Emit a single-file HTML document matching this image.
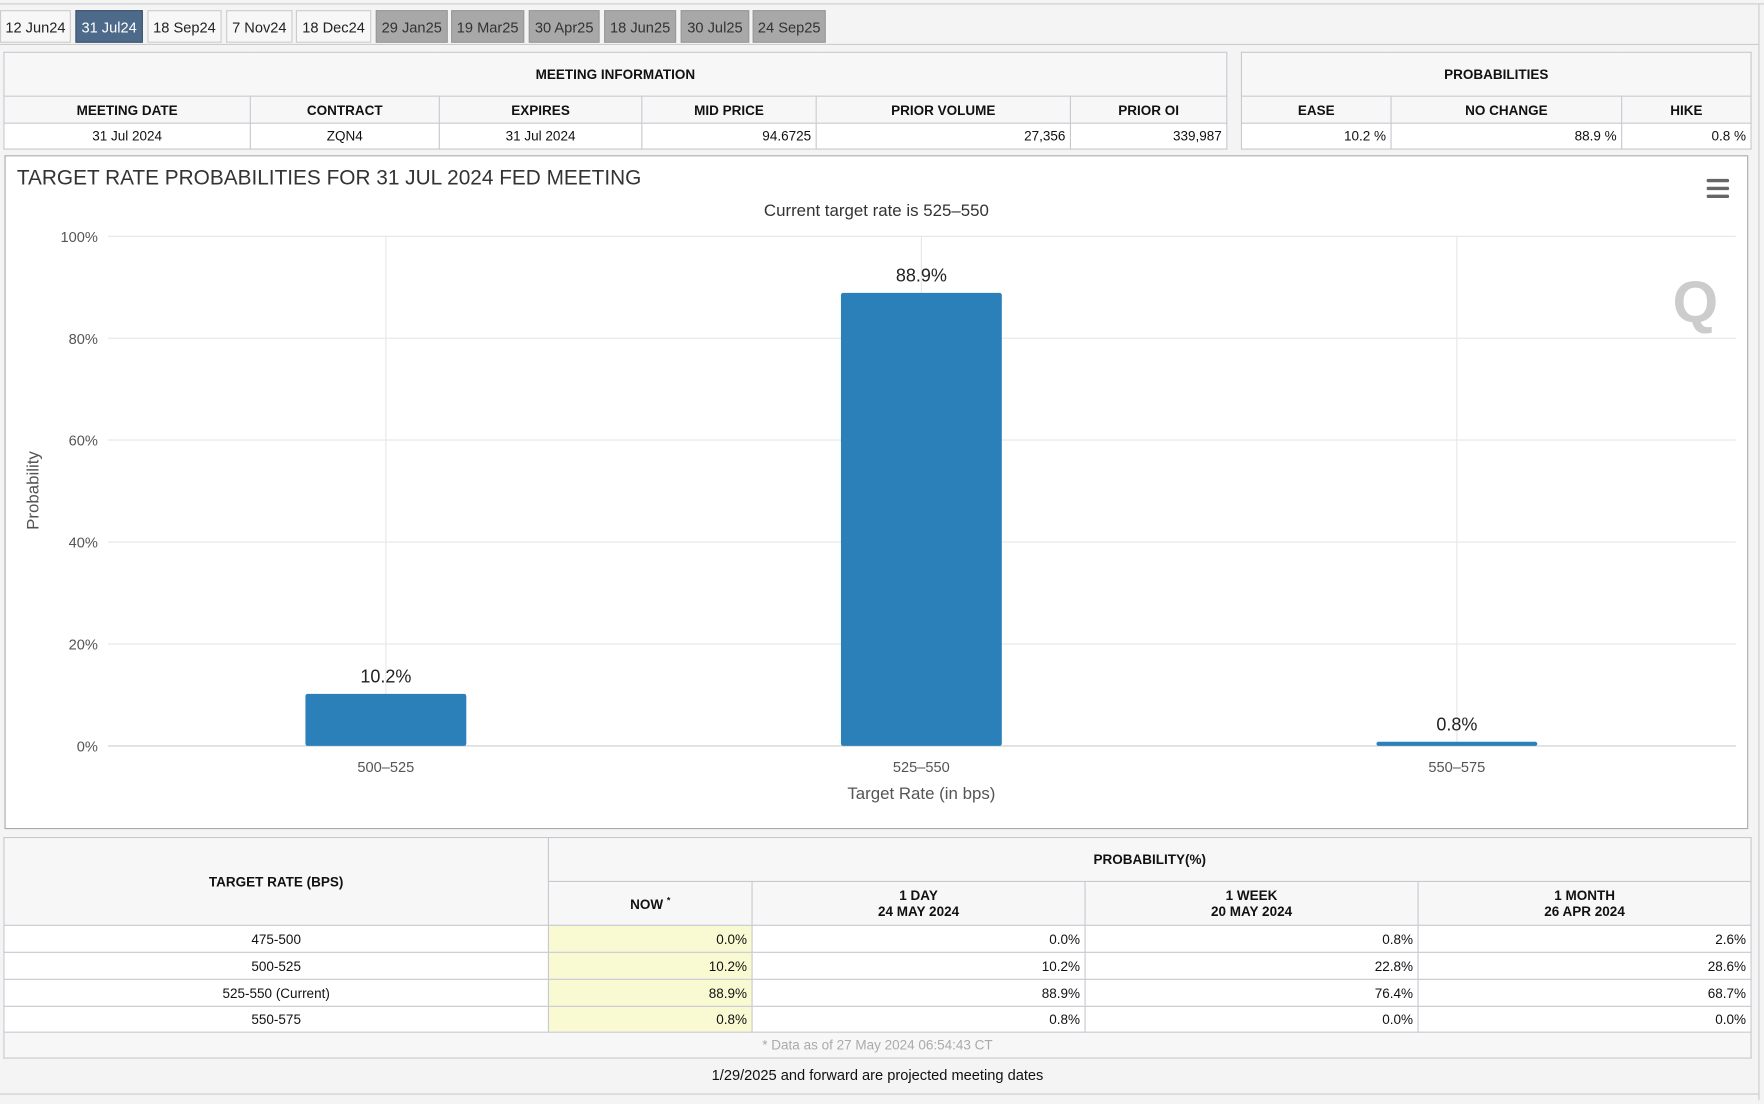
<!DOCTYPE html>
<html><head><meta charset="utf-8">
<style>
html,body{margin:0;padding:0;width:1764px;height:1103px;overflow:hidden;background:#f4f4f4;}
#wrap{position:absolute;left:0;top:0;width:1568px;height:981px;transform:scale(1.125);transform-origin:0 0;font-family:"Liberation Sans",Arial,sans-serif;color:#111;}
.tab{position:absolute;top:9px;height:29px;line-height:29px;font-size:13px;text-align:center;border:1px solid #ccc;background:#f7f7f7;color:#222;box-sizing:border-box;}
.tab.g{background:#a8a8a8;color:#333;border-color:#999;}
.tab.a{background:#4e6a8a;color:#fff;border-color:#3c5470;}
table{position:absolute;border-collapse:collapse;table-layout:fixed;font-size:12px;background:#fff;}
td{border:1px solid #c8c8d0;padding:0 4px;overflow:hidden;white-space:nowrap;}
td.h{background:#f7f7f7;font-weight:bold;text-align:center;}
td.c{text-align:center;}td.r{text-align:right;}
td.y{background:#fafad2;text-align:right;}
</style></head><body>
<div id="wrap">
<div style="position:absolute;left:0;top:3px;width:1568px;height:1px;background:#ccc"></div>
<div style="position:absolute;left:0;top:39px;width:1564px;height:1px;background:#ccc"></div>
<div style="position:absolute;left:1563px;top:3px;width:1px;height:975px;background:#ccc"></div>
<div class="tab" style="left:0;width:63px">12 Jun24</div>
<div class="tab a" style="left:67px;width:60px">31 Jul24</div>
<div class="tab" style="left:131px;width:66px">18 Sep24</div>
<div class="tab" style="left:201px;width:59px">7 Nov24</div>
<div class="tab" style="left:263px;width:67px">18 Dec24</div>
<div class="tab g" style="left:334px;width:64px">29 Jan25</div>
<div class="tab g" style="left:401px;width:65px">19 Mar25</div>
<div class="tab g" style="left:470px;width:63px">30 Apr25</div>
<div class="tab g" style="left:537px;width:64px">18 Jun25</div>
<div class="tab g" style="left:605px;width:61px">30 Jul25</div>
<div class="tab g" style="left:669px;width:65px">24 Sep25</div>

<table style="left:3px;top:46px;width:1087px">
<colgroup><col style="width:219px"><col style="width:168px"><col style="width:180px"><col style="width:155px"><col style="width:226px"><col style="width:139px"></colgroup>
<tr style="height:39px"><td class="h" colspan="6">MEETING INFORMATION</td></tr>
<tr style="height:24px"><td class="h">MEETING DATE</td><td class="h">CONTRACT</td><td class="h">EXPIRES</td><td class="h">MID PRICE</td><td class="h">PRIOR VOLUME</td><td class="h">PRIOR OI</td></tr>
<tr style="height:23px"><td class="c">31 Jul 2024</td><td class="c">ZQN4</td><td class="c">31 Jul 2024</td><td class="r">94.6725</td><td class="r">27,356</td><td class="r">339,987</td></tr>
</table>
<table style="left:1103px;top:46px;width:453px">
<colgroup><col style="width:133px"><col style="width:205px"><col style="width:115px"></colgroup>
<tr style="height:39px"><td class="h" colspan="3">PROBABILITIES</td></tr>
<tr style="height:24px"><td class="h">EASE</td><td class="h">NO CHANGE</td><td class="h">HIKE</td></tr>
<tr style="height:23px"><td class="r">10.2 %</td><td class="r">88.9 %</td><td class="r">0.8 %</td></tr>
</table>

<div style="position:absolute;left:4px;top:138px;width:1548px;height:597px;background:#fff;border:1px solid #aaa"></div>
<svg id="chart" style="position:absolute;left:0;top:0" width="1568" height="740" font-family="Liberation Sans, Arial, sans-serif">
<text x="15" y="164" font-size="18.5" fill="#333">TARGET RATE PROBABILITIES FOR 31 JUL 2024 FED MEETING</text>
<text x="779" y="192" font-size="15" fill="#333" text-anchor="middle">Current target rate is 525–550</text>
<g><rect x="1517" y="159" width="20" height="3" rx="1.5" fill="#666"/><rect x="1517" y="166" width="20" height="3" rx="1.5" fill="#666"/><rect x="1517" y="173" width="20" height="3" rx="1.5" fill="#666"/></g>
<text x="1507" y="286" font-size="52" font-weight="bold" fill="#ccc" text-anchor="middle">Q</text>
<g id="grid"></g><g id="bars"></g><g id="axes"></g>
<text x="819" y="710" font-size="15" fill="#555" text-anchor="middle">Target Rate (in bps)</text>
<text transform="translate(34,436) rotate(-90)" font-size="15" fill="#555" text-anchor="middle">Probability</text>
</svg>

<table style="left:3px;top:744px;width:1553px;font-size:12px">
<colgroup><col style="width:484px"><col style="width:181px"><col style="width:296px"><col style="width:296px"><col style="width:296px"></colgroup>
<tr style="height:39px"><td class="h" rowspan="2">TARGET RATE (BPS)</td><td class="h" colspan="4">PROBABILITY(%)</td></tr>
<tr style="height:39px"><td class="h">NOW <sup style="font-size:8px">*</sup></td><td class="h">1 DAY<br>24 MAY 2024</td><td class="h">1 WEEK<br>20 MAY 2024</td><td class="h">1 MONTH<br>26 APR 2024</td></tr>
<tr style="height:24px"><td class="c">475-500</td><td class="y">0.0%</td><td class="r">0.0%</td><td class="r">0.8%</td><td class="r">2.6%</td></tr>
<tr style="height:24px"><td class="c">500-525</td><td class="y">10.2%</td><td class="r">10.2%</td><td class="r">22.8%</td><td class="r">28.6%</td></tr>
<tr style="height:24px"><td class="c">525-550 (Current)</td><td class="y">88.9%</td><td class="r">88.9%</td><td class="r">76.4%</td><td class="r">68.7%</td></tr>
<tr style="height:23px"><td class="c">550-575</td><td class="y">0.8%</td><td class="r">0.8%</td><td class="r">0.0%</td><td class="r">0.0%</td></tr>
<tr style="height:23px"><td colspan="5" style="background:#f7f7f7;color:#aaa;text-align:center">* Data as of 27 May 2024 06:54:43 CT</td></tr>
</table>
<div style="position:absolute;left:0;top:948px;width:1560px;text-align:center;font-size:13px">1/29/2025 and forward are projected meeting dates</div>
<div style="position:absolute;left:0;top:972px;width:1564px;height:1px;background:#ccc"></div>
</div>
<script>
const categories = ["500–525","525–550","550–575"];
const probabilities = [10.2, 88.9, 0.8];
const yTicks = [0,20,40,60,80,100];
const NS="http://www.w3.org/2000/svg";
const gridL=96, gridR=1543, bandL=105, bandR=1533, plotT=210, plotB=663;
const band=(bandR-bandL)/categories.length;
function xC(i){return bandL+band*(i+0.5);}
function yS(v){return plotB-(v/100)*(plotB-plotT);}
function mk(tag,attrs,parent){const e=document.createElementNS(NS,tag);for(const k in attrs)e.setAttribute(k,attrs[k]);parent.appendChild(e);return e;}
const grid=document.getElementById('grid'),bars=document.getElementById('bars'),axes=document.getElementById('axes');
yTicks.forEach(t=>{
  const l=mk('line',{x1:gridL,x2:gridR,y1:yS(t),y2:yS(t),stroke:t===0?'#ccc':'#e6e6e6','stroke-width':1},grid);
  
  
  const tx=mk('text',{x:87,y:yS(t)+5,'font-size':13,fill:'#555','text-anchor':'end'},axes);
  tx.textContent=t+'%';
  
  
});
categories.forEach((c,i)=>{
  const gl=mk('line',{x1:xC(i),x2:xC(i),y1:plotT,y2:plotB,stroke:'#e6e6e6','stroke-width':1},grid);
  
  
  const v=probabilities[i], w=143;
  const r=mk('rect',{x:xC(i)-w/2,y:yS(v),width:w,height:plotB-yS(v),fill:'#2b80b9',rx:2},bars);
  
  
  const lb=mk('text',{x:xC(i),y:yS(v)-10,'font-size':16,fill:'#222','text-anchor':'middle'},bars);
  lb.textContent=v.toFixed(1)+'%';
  
  
  const xl=mk('text',{x:xC(i),y:686,'font-size':13,fill:'#555','text-anchor':'middle'},axes);
  xl.textContent=c;
  
  
});
</script>
</body></html>
